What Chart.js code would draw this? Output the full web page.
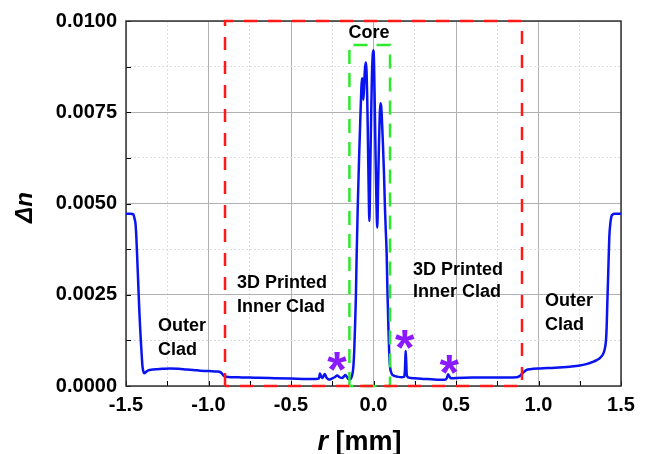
<!DOCTYPE html>
<html><head><meta charset="utf-8">
<script src="https://cdn.jsdelivr.net/npm/chart.js@4"></script>
<style>html,body{margin:0;padding:0;background:#fff}</style>
</head>
<body>
<canvas id="c" width="647" height="454"></canvas>
<script>
// ---- data ----
const rValues = [
-1.5,-1.47,-1.455,-1.448,-1.442,-1.437,-1.433,-1.427,-1.421,-1.415,-1.409,-1.404,-1.4,-1.395,-1.389,-1.38,-1.365,-1.34,-1.313,-1.28,-1.233,-1.18,-1.13,-1.092,-1.05,-1.0,-0.95,-0.935,-0.92,-0.91,-0.9,-0.85,-0.8,-0.748,-0.7,-0.6,-0.5,-0.4,-0.35,-0.33,-0.325,-0.318,-0.31,-0.302,-0.295,-0.285,-0.275,-0.263,-0.25,-0.235,-0.22,-0.205,-0.19,-0.18,-0.17,-0.16,-0.152,-0.145,-0.138,-0.132,-0.127,-0.122,-0.117,-0.112,-0.107,-0.102,-0.095,-0.087,-0.08,-0.074,-0.07,-0.066,-0.062,-0.058,-0.053,-0.048,-0.045,-0.042,-0.038,-0.034,-0.03,-0.025,-0.02,-0.015,-0.01,-0.005,-0.001,0.003,0.008,0.013,0.018,0.023,0.028,0.033,0.038,0.042,0.047,0.052,0.057,0.063,0.07,0.075,0.08,0.084,0.09,0.096,0.101,0.106,0.112,0.12,0.13,0.15,0.17,0.185,0.19,0.193,0.195,0.198,0.201,0.205,0.215,0.25,0.3,0.35,0.4,0.43,0.445,0.452,0.46,0.47,0.5,0.6,0.7,0.8,0.87,0.888,0.9,0.915,0.928,0.95,1.01,1.1,1.19,1.25,1.29,1.33,1.353,1.375,1.393,1.402,1.409,1.413,1.417,1.423,1.429,1.436,1.443,1.45,1.46,1.475,1.5
];
const dnValues = [
0.00472,0.00472,0.00470,0.00458,0.00443,0.00405,0.00362,0.00295,0.00225,0.00165,0.00116,0.00078,0.00053,0.00040,0.00035,0.00038,0.00043,0.00045,0.00046,0.00047,0.00048,0.00047,0.00045,0.00044,0.00042,0.00041,0.000395,0.00039,0.00035,0.00029,0.00026,0.00024,0.000235,0.00023,0.000225,0.000215,0.000205,0.000195,0.000195,0.00021,0.00034,0.00027,0.00022,0.00028,0.00033,0.00023,0.00019,0.00018,0.00021,0.00024,0.00029,0.00024,0.00022,0.00026,0.00030,0.00024,0.00019,0.00018,0.00020,0.00026,0.00035,0.00053,0.00095,0.00162,0.00240,0.00360,0.00500,0.00630,0.00730,0.00810,0.00843,0.00835,0.00784,0.00810,0.00860,0.00886,0.00886,0.00860,0.00790,0.00680,0.00560,0.00452,0.00580,0.00720,0.00840,0.00905,0.00920,0.00890,0.00760,0.00620,0.00500,0.00434,0.00550,0.00660,0.00745,0.00775,0.00765,0.00720,0.00665,0.00590,0.00480,0.00420,0.00360,0.00270,0.00165,0.00080,0.00050,0.00039,0.00032,0.00029,0.00027,0.00025,0.00024,0.00025,0.00040,0.00075,0.00096,0.00070,0.00035,0.00026,0.00023,0.00021,0.000195,0.000185,0.00017,0.00017,0.00022,0.00032,0.00026,0.00021,0.00022,0.00023,0.00023,0.000235,0.00024,0.00028,0.00034,0.00040,0.00044,0.00046,0.00048,0.00050,0.00053,0.00056,0.00060,0.00066,0.00071,0.00078,0.00089,0.00102,0.00125,0.00160,0.00225,0.00315,0.00407,0.00448,0.00466,0.00470,0.00472,0.00472,0.00472
];
const xTickLabels = [-1.5,-1.0,-0.5,0.0,0.5,1.0,1.5];
const yTickLabels = [0.0000,0.0025,0.0050,0.0075,0.0100];
const innerBoxR  = [-0.9,-0.9,0.9,0.9,-0.9];
const innerBoxDn = [0,0.01,0.01,0,0];
const coreBoxR   = [-0.146,-0.146,0.1,0.1,-0.146];
const coreBoxDn  = [0,0.00934,0.00934,0,0];
const labelTexts = ['Outer','Clad','3D Printed','Inner Clad','3D Printed','Inner Clad','Outer','Clad'];
const labelR     = [-1.306,-1.306,-0.827,-0.827,0.239,0.239,1.039,1.039];
const labelDn    = [0.00165,0.000995,0.00281,0.00215,0.00317,0.00258,0.00233,0.00168];
const coreLabel = 'Core', coreLabelR = -0.027, coreLabelDn = 0.00966;
const starR  = [-0.222,0.19,0.459];
const starDn = [0.00068,0.00128,0.00058];

const FONT = 'Arial, "Liberation Sans", sans-serif';
const toXY = (xs, ys) => xs.map((x, i) => ({x, y: ys[i]}));
const isMult = (v, s) => Math.abs(v / s - Math.round(v / s)) < 1e-6;

const decor = {
  id: 'decor',
  beforeDatasetsDraw(chart) {
    const {ctx, chartArea: a, scales} = chart;
    ctx.save();
    ctx.strokeStyle = '#000';
    ctx.lineWidth = 1;
    scales.x.ticks.forEach(t => {
      const px = Math.round(scales.x.getPixelForValue(t.value)) + 0.5;
      ctx.beginPath(); ctx.moveTo(px, a.bottom); ctx.lineTo(px, a.bottom - 5); ctx.stroke();
    });
    scales.y.ticks.forEach(t => {
      const py = Math.round(scales.y.getPixelForValue(t.value)) + 0.5;
      ctx.beginPath(); ctx.moveTo(a.left, py); ctx.lineTo(a.left + 5, py); ctx.stroke();
    });
    ctx.lineWidth = 1.5;
    ctx.strokeStyle = '#333';
    ctx.strokeRect(a.left, a.top, a.right - a.left, a.bottom - a.top);
    ctx.restore();
  },
  afterDatasetsDraw(chart) {
    const {ctx, chartArea: a, scales} = chart;
    const X = v => scales.x.getPixelForValue(v), Y = v => scales.y.getPixelForValue(v);
    ctx.save();
    ctx.fillStyle = '#000';
    ctx.font = 'bold 18px ' + FONT;
    ctx.textBaseline = 'middle';
    ctx.textAlign = 'left';
    labelTexts.forEach((t, i) => ctx.fillText(t, X(labelR[i]), Y(labelDn[i])));
    ctx.textAlign = 'center';
    ctx.fillText(coreLabel, X(coreLabelR), Y(coreLabelDn));
    // asterisks
    ctx.fillStyle = '#8a1aff';
    ctx.font = 'bold 50px ' + FONT;
    ctx.textBaseline = 'alphabetic';
    const m = ctx.measureText('*');
    const mid = (m.actualBoundingBoxAscent - m.actualBoundingBoxDescent) / 2;
    starR.forEach((r, i) => ctx.fillText('*', X(r), Y(starDn[i]) + mid));
    // axis titles
    ctx.fillStyle = '#000';
    ctx.save();
    ctx.translate(25, (a.top + a.bottom) / 2 + 4);
    ctx.rotate(-Math.PI / 2);
    ctx.font = 'italic bold 24px ' + FONT;
    ctx.textAlign = 'center';
    ctx.textBaseline = 'middle';
    ctx.fillText('\u0394n', 0, 0);
    ctx.restore();
    ctx.textAlign = 'left';
    ctx.textBaseline = 'alphabetic';
    const f1 = 'italic bold 27px ' + FONT, f2 = 'bold 27px ' + FONT;
    ctx.font = f1; const w1 = ctx.measureText('r').width;
    ctx.font = f2; const w2 = ctx.measureText(' [mm]').width;
    const cx = (a.left + a.right) / 2 - 14;
    const sx = cx - (w1 + w2) / 2;
    ctx.font = f1; ctx.fillText('r', sx, 450);
    ctx.font = f2; ctx.fillText(' [mm]', sx + w1, 450);
    ctx.restore();
  }
};

new Chart(document.getElementById('c'), {
  type: 'scatter',
  data: {
    datasets: [
      { data: toXY(innerBoxR, innerBoxDn), showLine: true, borderColor: '#ff1a1a', borderWidth: 2.5,
        borderDash: [13, 11], pointRadius: 0, clip: false, order: 0, tension: 0 },
      { data: toXY(coreBoxR, coreBoxDn), showLine: true, borderColor: '#2ee82e', borderWidth: 2.5,
        borderDash: [14, 9], pointRadius: 0, clip: false, order: 0, tension: 0 },
      { data: toXY(rValues, dnValues), showLine: true, borderColor: '#0a14f0', borderWidth: 2.5,
        pointRadius: 0, order: 1, cubicInterpolationMode: 'monotone' }
    ]
  },
  options: {
    responsive: false,
    animation: false,
    devicePixelRatio: 1,
    layout: { padding: { top: 19, right: 26, left: 0, bottom: 0 } },
    plugins: { legend: { display: false }, tooltip: { enabled: false } },
    scales: {
      x: {
        type: 'linear', min: -1.5, max: 1.5,
        afterFit: s => { s.height = 68; },
        ticks: {
          stepSize: 0.25, padding: 7, color: '#000',
          font: { family: FONT, size: 20, weight: 'bold' },
          autoSkip: false, maxRotation: 0,
          callback: v => (isMult(v, 0.5) && xTickLabels.some(t => Math.abs(t - v) < 1e-6)) ? v.toFixed(1) : ''
        },
        grid: {
          drawTicks: false,
          color: c => (c.tick && isMult(c.tick.value, 0.5)) ? '#b0b0b0' : '#dddddd',
          lineWidth: 1
        },
        border: { display: false, dash: c => (c.tick && !isMult(c.tick.value, 0.5)) ? [2, 2] : [] }
      },
      y: {
        type: 'linear', min: 0, max: 0.01,
        afterFit: s => { s.width = 126; },
        ticks: {
          stepSize: 0.00125, padding: 9, color: '#000',
          font: { family: FONT, size: 20, weight: 'bold' },
          autoSkip: false,
          callback: v => (isMult(v, 0.0025) && yTickLabels.some(t => Math.abs(t - v) < 1e-9)) ? v.toFixed(4) : ''
        },
        grid: {
          drawTicks: false,
          color: c => (c.tick && isMult(c.tick.value, 0.0025)) ? '#b0b0b0' : '#dddddd',
          lineWidth: 1
        },
        border: { display: false, dash: c => (c.tick && !isMult(c.tick.value, 0.0025)) ? [2, 2] : [] }
      }
    }
  },
  plugins: [decor]
});
</script>
</body></html>
